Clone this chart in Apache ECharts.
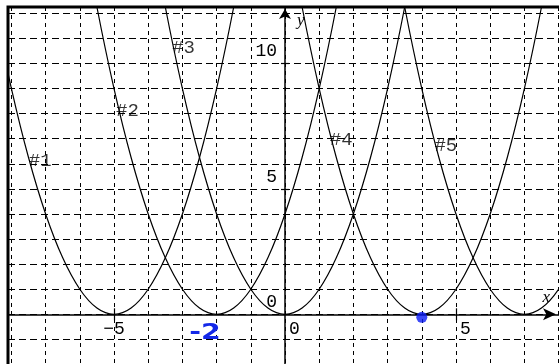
<!DOCTYPE html>
<html>
<head>
<meta charset="utf-8">
<script src="https://cdn.jsdelivr.net/npm/echarts@6/dist/echarts.min.js"></script>
<style>
  html, body { margin: 0; padding: 0; background: #fff; }
  #chart { width: 559px; height: 364px; }
</style>
</head>
<body>
<div id="chart"></div>
<script>
// Five translated parabolas y = (x - h)^2, sampled every half unit.
const curveNames = ['#1', '#2', '#3', '#4', '#5'];
const xs1 = [-9, -8.5, -8, -7.5, -7, -6.5, -6, -5.5, -5, -4.5, -4, -3.5, -3, -2.5, -2, -1.5, -1];
const xs2 = [-6, -5.5, -5, -4.5, -4, -3.5, -3, -2.5, -2, -1.5, -1, -0.5, 0, 0.5, 1, 1.5, 2];
const xs3 = [-4, -3.5, -3, -2.5, -2, -1.5, -1, -0.5, 0, 0.5, 1, 1.5, 2, 2.5, 3, 3.5, 4];
const xs4 = [0, 0.5, 1, 1.5, 2, 2.5, 3, 3.5, 4, 4.5, 5, 5.5, 6, 6.5, 7, 7.5, 8];
const xs5 = [3, 3.5, 4, 4.5, 5, 5.5, 6, 6.5, 7, 7.5, 8, 8.5, 9, 9.5, 10, 10.5, 11];
const ys = [16, 12.25, 9, 6.25, 4, 2.25, 1, 0.25, 0, 0.25, 1, 2.25, 4, 6.25, 9, 12.25, 16];

// Where each curve's tag sits (left edge, vertical centre of the text).
const tagX = [-7.49, -4.94, -3.30, 1.31, 4.37];
const tagY = [6.11, 8.11, 10.6, 6.95, 6.73];

// Grid lines at every unit, labelled ticks at multiples of five.
const xGridValues = [-8, -7, -6, -5, -4, -3, -2, -1, 0, 1, 2, 3, 4, 5, 6, 7, 8];
const yGridValues = [-2, -1, 0, 1, 2, 3, 4, 5, 6, 7, 8, 9, 10, 11, 12];
const xTickLabels = [-5, 0, 5];
const yTickLabels = [0, 5, 10];
const xTickMarks = [-5, 5];
const yTickMarks = [5, 10];

// Marked vertex and the handwritten note.
const markedPoint = [4, -0.12];
const noteText = '-2';
const notePoint = [-2.34, -0.76];

const allXs = [xs1, xs2, xs3, xs4, xs5];

// Plot window
const X_MIN = -8.1, X_MAX = 8.1, Y_MIN = -2.1, Y_MAX = 12.25;
const GRID = { left: 8, top: 7, right: -3, bottom: -3 };
const W = 559, H = 364;
const plotW = W - GRID.left - GRID.right;
const plotH = H - GRID.top - GRID.bottom;
// Shift the axes from the plot edges onto the origin.
const yAxisShift = -(plotW * (0 - X_MIN) / (X_MAX - X_MIN));
const xAxisShift = -(plotH * (0 - Y_MIN) / (Y_MAX - Y_MIN));

const monoFont = '"Liberation Mono", "DejaVu Sans Mono", monospace';
const nameFont = '"Liberation Serif", serif';

const curveSeries = allXs.map((xs, i) => ({
  name: curveNames[i],
  type: 'line',
  smooth: 0.35,
  showSymbol: false,
  symbol: 'none',
  silent: true,
  clip: true,
  z: 3,
  lineStyle: { color: '#000', width: 1.2 },
  data: xs.map((x, j) => [x, ys[j]])
}));

const tagSeries = {
  type: 'scatter',
  symbolSize: 0,
  silent: true,
  z: 4,
  data: curveNames.map((n, i) => ({ value: [tagX[i], tagY[i]], name: n })),
  label: {
    show: true,
    position: 'right',
    distance: 0,
    formatter: p => p.name,
    color: '#000',
    fontFamily: monoFont,
    fontSize: 19
  }
};

const pointSeries = {
  type: 'scatter',
  silent: true,
  clip: false,
  z: 6,
  symbol: 'circle',
  symbolSize: 11,
  itemStyle: { color: '#0b1cf5' },
  data: [markedPoint]
};

// Axes carrying only the short tick marks that cross the main axis lines.
const tickOnlyAxis = (values, shift, len) => ({
  type: 'value',
  offset: shift,
  axisLine: { show: false, onZero: false },
  axisLabel: { show: false },
  splitLine: { show: false },
  axisTick: { show: true, customValues: values, length: len, lineStyle: { color: '#000', width: 1.2 } }
});

const chart = echarts.init(document.getElementById('chart'), null, { renderer: 'canvas' });

const xTickAxis = Object.assign(tickOnlyAxis(xTickMarks, xAxisShift - 6, 12), { min: X_MIN, max: X_MAX, position: 'bottom' });
const yTickAxis = Object.assign(tickOnlyAxis(yTickMarks, yAxisShift - 4, 8), { min: Y_MIN, max: Y_MAX, position: 'left' });

chart.setOption({
  animation: false,
  backgroundColor: '#fff',
  grid: {
    left: GRID.left, top: GRID.top, right: GRID.right, bottom: GRID.bottom,
    containLabel: false,
    outerBoundsMode: 'none',
    show: true,
    borderColor: '#000',
    borderWidth: 3,
    backgroundColor: 'transparent'
  },
  xAxis: [{
    type: 'value',
    min: X_MIN,
    max: X_MAX,
    position: 'bottom',
    offset: xAxisShift,
    name: 'x',
    nameLocation: 'end',
    nameGap: -12,
    nameTextStyle: {
      fontFamily: nameFont,
      fontStyle: 'italic',
      fontSize: 17,
      color: '#000',
      align: 'right',
      verticalAlign: 'bottom',
      padding: [0, 0, 8, 0]
    },
    axisLine: {
      onZero: false,
      lineStyle: { color: '#000', width: 1.5 },
      symbol: ['none', 'arrow'],
      symbolSize: [9, 13],
      symbolOffset: [0, -6]
    },
    axisTick: { show: false, customValues: xGridValues },
    axisLabel: {
      customValues: xTickLabels,
      margin: 6,
      color: '#000',
      fontFamily: monoFont,
      fontSize: 18,
      formatter: v => v < 0 ? '{c|−' + Math.abs(v) + '}' : '{r|' + v + '}',
      rich: {
        c: { fontFamily: monoFont, fontSize: 18, color: '#000' },
        r: { fontFamily: monoFont, fontSize: 18, color: '#000', padding: [0, 0, 0, 19] }
      }
    },
    splitLine: {
      show: true,
      lineStyle: { color: '#000', width: 1, type: [4, 4] }
    }
  }, xTickAxis],
  yAxis: [{
    type: 'value',
    min: Y_MIN,
    max: Y_MAX,
    position: 'left',
    offset: yAxisShift,
    name: 'y',
    nameLocation: 'end',
    nameGap: -5,
    nameTextStyle: {
      fontFamily: nameFont,
      fontStyle: 'italic',
      fontSize: 17,
      color: '#000',
      align: 'left',
      verticalAlign: 'top',
      padding: [0, 0, 0, 12]
    },
    axisLine: {
      onZero: false,
      lineStyle: { color: '#000', width: 1.5 },
      symbol: ['none', 'arrow'],
      symbolSize: [9, 10],
      symbolOffset: [0, -2]
    },
    axisTick: { show: false, customValues: yGridValues },
    axisLabel: {
      customValues: yTickLabels,
      margin: 8,
      align: 'right',
      verticalAlign: 'bottom',
      padding: [0, 0, 3, 0],
      color: '#000',
      fontFamily: monoFont,
      fontSize: 18
    },
    splitLine: {
      show: true,
      lineStyle: { color: '#000', width: 1, type: [7, 4] }
    }
  }, yTickAxis],
  series: [...curveSeries, tagSeries, pointSeries]
});

// Handwritten blue note below the x-axis, placed through the grid's own scales.
const notePx = chart.convertToPixel({ gridIndex: 0 }, notePoint);
chart.setOption({
  graphic: [{
    type: 'text',
    x: notePx[0],
    y: notePx[1],
    scaleX: 1.35,
    z: 10,
    silent: true,
    style: {
      text: noteText,
      fill: '#1428e8',
      font: 'bold 21px "DejaVu Sans", sans-serif',
      align: 'center',
      verticalAlign: 'middle'
    }
  }]
});
</script>
</body>
</html>
